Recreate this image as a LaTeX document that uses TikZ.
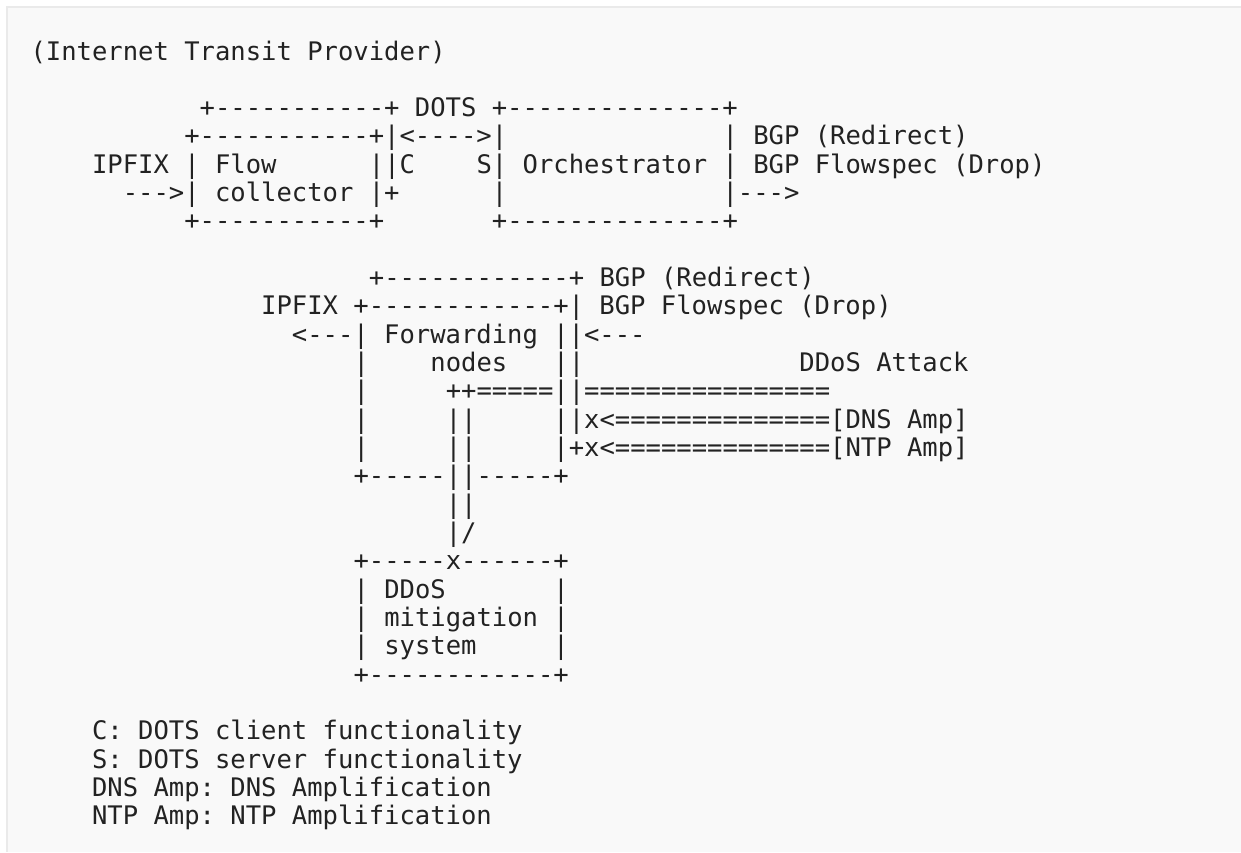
\documentclass[tikz,border=0pt]{standalone}
\usepackage{fontspec}
\setmonofont{DejaVu Sans Mono}
\definecolor{bgc}{HTML}{F9F9F9}
\definecolor{bordc}{HTML}{EAEAEA}
\definecolor{ink}{HTML}{222222}
\begin{document}
\begin{tikzpicture}[x=0.5pt,y=-0.5pt,
  txt/.style={anchor=base west, inner sep=0pt, outer sep=0pt, text=ink,
    font=\ttfamily\frenchspacing\fontsize{12.77pt}{14pt}\selectfont}]
\useasboundingbox (0,0) rectangle (1241,852);
\fill[white] (0,0) rectangle (1241,852);
\fill[bgc] (6,6) rectangle (1241,852);
\draw[bordc, line width=1pt] (6.5,852) -- (6.5,6.5) -- (1241,6.5);
% columns: left edge = 30.6 + 15.376*c ; baselines = 60 + 28.33*k
\node[txt] (l0)  at ({30.6+15.376*0},{60+28.33*0}) {(Internet~Transit~Provider)};
\node[txt] (l2)  at ({30.6+15.376*11},{60+28.33*2}) {+-----------+~DOTS~+--------------+};
\node[txt] (l3)  at ({30.6+15.376*10},{60+28.33*3}) {+-----------+|<---->|~~~~~~~~~~~~~~|~BGP~(Redirect)};
\node[txt] (l4)  at ({30.6+15.376*4},{60+28.33*4}) {IPFIX~|~Flow~~~~~~||C~~~~S|~Orchestrator~|~BGP~Flowspec~(Drop)};
\node[txt] (l5)  at ({30.6+15.376*6},{60+28.33*5}) {--->|~collector~|+~~~~~~|~~~~~~~~~~~~~~|--->};
\node[txt] (l6)  at ({30.6+15.376*10},{60+28.33*6}) {+-----------+~~~~~~~+--------------+};
\node[txt] (l8)  at ({30.6+15.376*22},{60+28.33*8}) {+------------+~BGP~(Redirect)};
\node[txt] (l9)  at ({30.6+15.376*15},{60+28.33*9}) {IPFIX~+------------+|~BGP~Flowspec~(Drop)};
\node[txt] (l10) at ({30.6+15.376*17},{60+28.33*10}) {<---|~Forwarding~||<---};
\node[txt] (l11) at ({30.6+15.376*21},{60+28.33*11}) {|~~~~nodes~~~||~~~~~~~~~~~~~~DDoS~Attack};
\node[txt] (l12) at ({30.6+15.376*21},{60+28.33*12}) {|~~~~~++=====||================};
\node[txt] (l13) at ({30.6+15.376*21},{60+28.33*13}) {|~~~~~||~~~~~||x<==============[DNS~Amp]};
\node[txt] (l14) at ({30.6+15.376*21},{60+28.33*14}) {|~~~~~||~~~~~|+x<==============[NTP~Amp]};
\node[txt] (l15) at ({30.6+15.376*21},{60+28.33*15}) {+-----||-----+};
\node[txt] (l16) at ({30.6+15.376*27},{60+28.33*16}) {||};
\node[txt] (l17) at ({30.6+15.376*27},{60+28.33*17}) {|/};
\node[txt] (l18) at ({30.6+15.376*21},{60+28.33*18}) {+-----x------+};
\node[txt] (l19) at ({30.6+15.376*21},{60+28.33*19}) {|~DDoS~~~~~~~|};
\node[txt] (l20) at ({30.6+15.376*21},{60+28.33*20}) {|~mitigation~|};
\node[txt] (l21) at ({30.6+15.376*21},{60+28.33*21}) {|~system~~~~~|};
\node[txt] (l22) at ({30.6+15.376*21},{60+28.33*22}) {+------------+};
\node[txt] (l24) at ({30.6+15.376*4},{60+28.33*24}) {C:~DOTS~client~functionality};
\node[txt] (l25) at ({30.6+15.376*4},{60+28.33*25}) {S:~DOTS~server~functionality};
\node[txt] (l26) at ({30.6+15.376*4},{60+28.33*26}) {DNS~Amp:~DNS~Amplification};
\node[txt] (l27) at ({30.6+15.376*4},{60+28.33*27}) {NTP~Amp:~NTP~Amplification};
\end{tikzpicture}
\end{document}
